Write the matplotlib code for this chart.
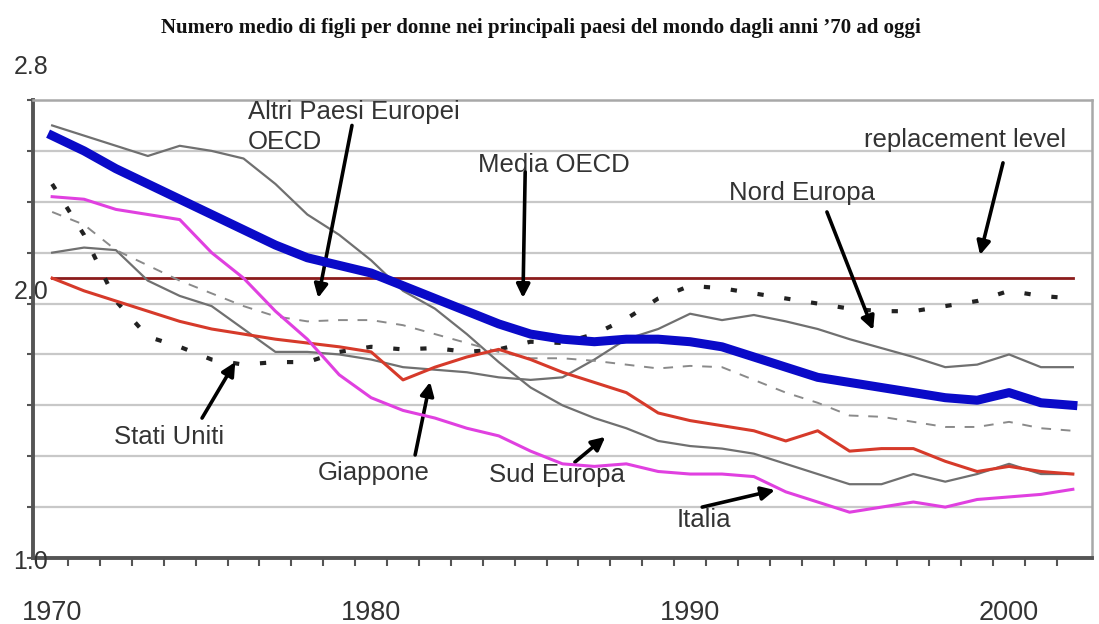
import numpy as np
import matplotlib
matplotlib.use('Agg')
import matplotlib.pyplot as plt

# anni 1970-2002
years = list(range(1970, 2003))

media_oecd = [2.66, 2.60, 2.53, 2.47, 2.41, 2.35, 2.29, 2.23, 2.18, 2.15,
              2.12, 2.07, 2.02, 1.97, 1.92, 1.88, 1.86, 1.85, 1.86, 1.86,
              1.85, 1.83, 1.79, 1.75, 1.71, 1.69, 1.67, 1.65, 1.63, 1.62,
              1.65, 1.61, 1.60]
sud_europa = [2.70, 2.66, 2.62, 2.58, 2.62, 2.60, 2.57, 2.47, 2.35, 2.27,
              2.17, 2.05, 1.98, 1.88, 1.77, 1.67, 1.60, 1.55, 1.51, 1.46,
              1.44, 1.43, 1.41, 1.37, 1.33, 1.29, 1.29, 1.33, 1.30, 1.33,
              1.37, 1.33, 1.33]
nord_europa = [2.20, 2.22, 2.21, 2.09, 2.03, 1.99, 1.90, 1.81, 1.81, 1.80,
               1.78, 1.75, 1.74, 1.73, 1.71, 1.70, 1.71, 1.78, 1.86, 1.90,
               1.96, 1.935, 1.955, 1.93, 1.90, 1.86, 1.825, 1.79, 1.75, 1.76,
               1.80, 1.75, 1.75]
altri_europei = [2.36, 2.31, 2.21, 2.15, 2.09, 2.04, 1.99, 1.95, 1.93, 1.935,
                 1.935, 1.915, 1.88, 1.845, 1.81, 1.785, 1.785, 1.775, 1.76, 1.745,
                 1.755, 1.75, 1.70, 1.65, 1.61, 1.56, 1.555, 1.535, 1.515, 1.515,
                 1.535, 1.51, 1.50]
stati_uniti = [2.47, 2.27, 2.01, 1.87, 1.83, 1.78, 1.76, 1.77, 1.77, 1.81,
               1.83, 1.82, 1.825, 1.81, 1.82, 1.85, 1.845, 1.88, 1.94, 2.02,
               2.07, 2.06, 2.04, 2.02, 2.00, 1.98, 1.97, 1.97, 1.99, 2.01,
               2.05, 2.03, 2.02]
giappone = [2.10, 2.05, 2.01, 1.97, 1.93, 1.90, 1.88, 1.86, 1.845, 1.83,
            1.81, 1.70, 1.75, 1.79, 1.82, 1.78, 1.73, 1.69, 1.65, 1.57,
            1.54, 1.52, 1.50, 1.46, 1.50, 1.42, 1.43, 1.43, 1.38, 1.34,
            1.36, 1.34, 1.33]
italia = [2.42, 2.41, 2.37, 2.35, 2.33, 2.20, 2.10, 1.97, 1.86, 1.72,
          1.63, 1.58, 1.55, 1.51, 1.48, 1.42, 1.37, 1.36, 1.37, 1.34,
          1.33, 1.33, 1.32, 1.26, 1.22, 1.18, 1.20, 1.22, 1.20, 1.23,
          1.24, 1.25, 1.27]
replacement = 2.1

year_labels = ['1970', '1980', '1990', '2000']
y_labels = ['1.0', '2.0', '2.8']

TXT = '#333333'
font_lab = {'fontsize': 18.5, 'color': TXT, 'family': 'Liberation Sans'}

fig = plt.figure(figsize=(10.99, 6.24), dpi=100)
ax = fig.add_axes([33 / 1099, 66 / 624, 1059 / 1099, 458 / 624])

# griglia orizzontale
for g in np.arange(1.2, 2.8, 0.2):
    ax.axhline(g, color='#c8c8c8', lw=1.6, zorder=0)

# linee
ax.plot(years, [replacement] * len(years), color='#8b1c1c', lw=2, zorder=2)
ax.plot(years, sud_europa, color='#707070', lw=1.6, zorder=3)
ax.plot(years, nord_europa, color='#707070', lw=1.6, zorder=3)
ax.plot(years, altri_europei, color='#8a8a8a', lw=1.4, ls=(0, (5, 5)), zorder=3)
ax.plot(years, stati_uniti, color='#222222', lw=3, ls=(0, (1.5, 5)), zorder=3)
ax.plot(years, giappone, color='#d63a2a', lw=2.2, zorder=4)
ax.plot(years, italia, color='#e040e0', lw=2.2, zorder=4)
ax.plot(years, media_oecd, color='#0a0ac8', lw=6.5, zorder=5)

ax.set_xlim(1969.4, 2002.6)
ax.set_ylim(1.0, 2.8)

# assi
for s in ['top', 'right']:
    ax.spines[s].set_color('#a8a8a8')
    ax.spines[s].set_linewidth(1.8)
for s in ['left', 'bottom']:
    ax.spines[s].set_color('#555555')
    ax.spines[s].set_linewidth(2.8)

ax.set_yticks(np.arange(1.0, 2.81, 0.2))
ax.set_yticklabels([])
ax.tick_params(axis='y', direction='out', length=4, width=1.5, color='#555555')
ax.set_xticks([1970, 1980, 1990, 2000])
ax.set_xticklabels(year_labels, fontsize=19.5, color=TXT, family='Liberation Sans')
ax.tick_params(axis='x', which='major', length=0, pad=30)
ax.set_xticks(np.arange(1970.5, 2002, 1.0), minor=True)
ax.tick_params(axis='x', which='minor', direction='out', length=6, width=1.5,
               color='#555555')

# etichette asse y
for lab, v, dy in zip(y_labels, [1.0, 2.0, 2.8], [-3, 8, 24]):
    ax.annotate(lab, xy=(0, v), xycoords=('axes fraction', 'data'),
                xytext=(-14, dy), textcoords='offset points', ha='left',
                va='center', fontsize=18, color=TXT, family='Liberation Sans',
                annotation_clip=False)

# titolo
fig.text(0.492, 0.955,
         'Numero medio di figli per donne nei principali paesi del mondo dagli anni \u201970 ad oggi',
         ha='center', va='center', fontsize=15, fontweight='bold',
         family='Liberation Serif', color='#111111')

# annotazioni con frecce
arrow = dict(arrowstyle='-|>', color='black', lw=2.6, mutation_scale=20,
             shrinkA=0, shrinkB=0)

ax.text(1976.14, 2.694, 'Altri Paesi Europei\nOECD', ha='left', va='center',
        linespacing=1.3, **font_lab)
ax.annotate('', xy=(1978.34, 2.022), xytext=(1979.40, 2.70), arrowprops=arrow)

ax.text(1985.74, 2.545, 'Media OECD', ha='center', va='center', **font_lab)
ax.annotate('', xy=(1984.76, 2.022), xytext=(1984.83, 2.517), arrowprops=arrow)

ax.text(1998.62, 2.643, 'replacement level', ha='center', va='center', **font_lab)
ax.annotate('', xy=(1999.09, 2.191), xytext=(1999.81, 2.553), arrowprops=arrow)

ax.text(1993.51, 2.435, 'Nord Europa', ha='center', va='center', **font_lab)
ax.annotate('', xy=(1995.74, 1.896), xytext=(1994.29, 2.360), arrowprops=arrow)

ax.text(1973.67, 1.476, 'Stati Uniti', ha='center', va='center', **font_lab)
ax.annotate('', xy=(1975.74, 1.770), xytext=(1974.70, 1.550), arrowprops=arrow)

ax.text(1980.09, 1.334, 'Giappone', ha='center', va='center', **font_lab)
ax.annotate('', xy=(1981.85, 1.692), xytext=(1981.38, 1.405), arrowprops=arrow)

ax.text(1985.83, 1.326, 'Sud Europa', ha='center', va='center', **font_lab)
ax.annotate('', xy=(1987.34, 1.476), xytext=(1986.39, 1.377), arrowprops=arrow)

ax.text(1990.44, 1.149, 'Italia', ha='center', va='center', **font_lab)
ax.annotate('', xy=(1992.66, 1.267), xytext=(1990.38, 1.200), arrowprops=arrow)

fig.savefig('out.png', dpi=100)
